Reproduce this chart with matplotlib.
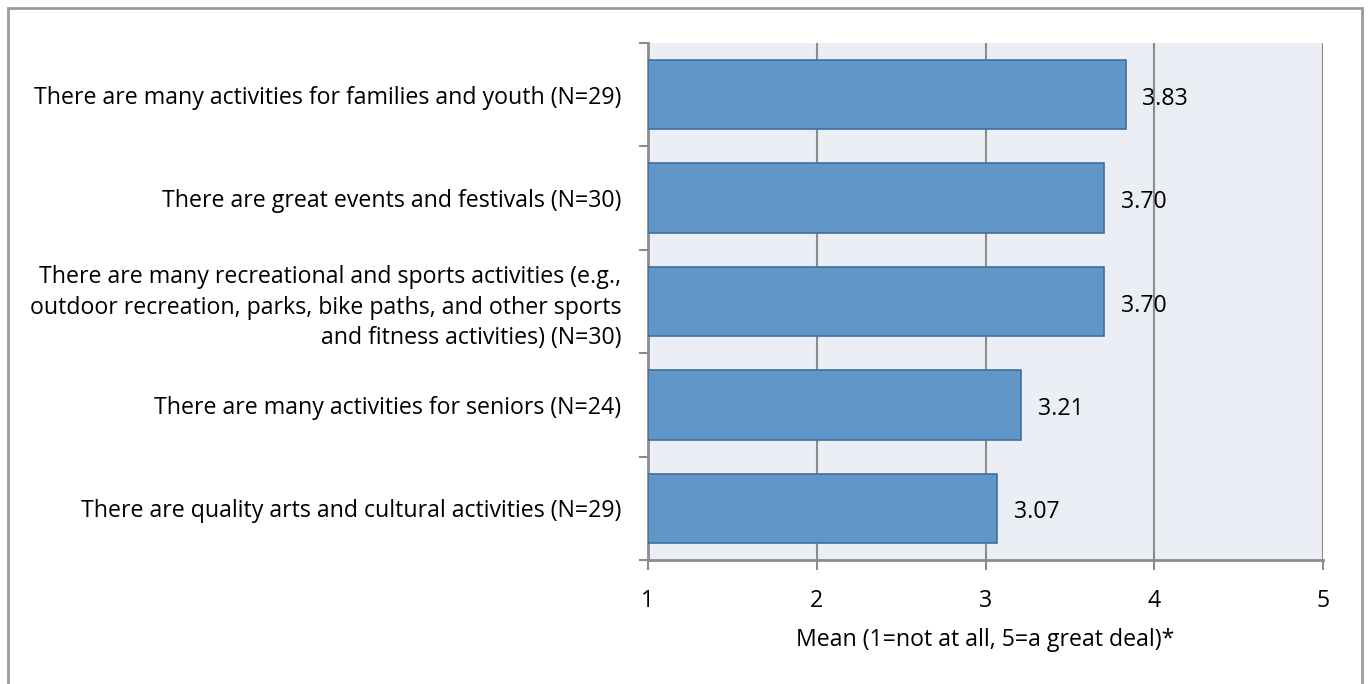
import matplotlib.pyplot as plt
from matplotlib.patches import Rectangle

plt.rcParams['font.family'] = ['Open Sans', 'DejaVu Sans']

categories = [
    'There are many activities for families and youth (N=29)',
    'There are great events and festivals (N=30)',
    'There are many recreational and sports activities (e.g.,\n'
    'outdoor recreation, parks, bike paths, and other sports\n'
    'and fitness activities) (N=30)',
    'There are many activities for seniors (N=24)',
    'There are quality arts and cultural activities (N=29)',
]
means = [3.83, 3.70, 3.70, 3.21, 3.07]
x_ticks = [1, 2, 3, 4, 5]

fs = 16.7

fig = plt.figure(figsize=(13.69, 6.84), dpi=100)
ax = fig.add_axes([648 / 1369, 1 - 560 / 684, 675 / 1369, 517 / 684])

# 外框
fig.patches.append(Rectangle((8 / 1369, -0.01), 1354 / 1369, 1 - 8 / 684 + 0.01,
                             transform=fig.transFigure, fill=False,
                             edgecolor='#9a9a9a', linewidth=2))

ax.set_facecolor('#eceef6')
y = list(range(len(categories)))
ax.barh(y, [m - 1 for m in means], left=1, height=0.67,
        color='#6096c8', edgecolor='#41719c', linewidth=1.2, zorder=3)

for yi, m in zip(y, means):
    ax.text(m + 0.1, yi + 0.04, '%.2f' % m, va='center', ha='left', fontsize=fs, zorder=4)

ax.set_xlim(1, 5)
ax.set_ylim(len(categories) - 0.5, -0.5)
ax.set_xticks(x_ticks)
ax.set_xticklabels([str(t) for t in x_ticks], fontsize=fs)
ax.set_yticks(y)
ax.set_yticklabels(categories, fontsize=fs, linespacing=1.35)
ax.tick_params(axis='y', length=0, pad=19)
ax.tick_params(axis='x', length=7, width=1.5, color='#8c8c8c', pad=14, direction='out')

# y轴分隔刻度
for b in [i - 0.5 for i in range(len(categories) + 1)]:
    ax.plot([-0.012, 0], [b, b], transform=ax.get_yaxis_transform(), color='#8c8c8c',
            linewidth=1.5, clip_on=False)

ax.grid(True, axis='x', color='#8c8c8c', linewidth=1.5, zorder=1)
for s in ['top', 'right']:
    ax.spines[s].set_visible(False)
ax.spines['left'].set_color('#8c8c8c')
ax.spines['left'].set_linewidth(2)
ax.spines['bottom'].set_color('#8c8c8c')
ax.spines['bottom'].set_linewidth(2)

ax.set_xlabel('Mean (1=not at all, 5=a great deal)*', fontsize=fs, labelpad=11)

plt.savefig('out.png', dpi=100)
plt.close()
